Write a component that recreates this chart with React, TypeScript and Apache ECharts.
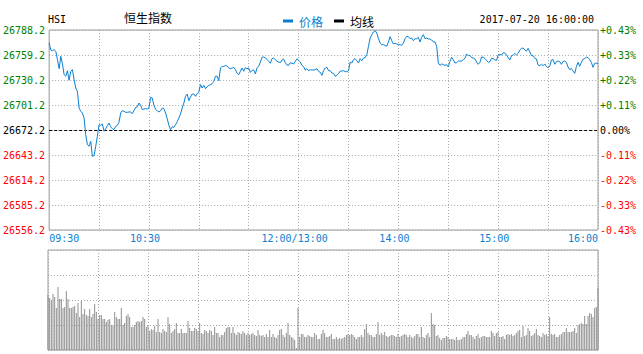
import React, { useEffect, useRef } from "react";
import * as echarts from "echarts";

// ---- data ----
const PREV_CLOSE = 26672.2;
const Y_STEP = 29;
const TIME_TICKS = [0, 60, 150, 210, 270, 330];
const TIME_LABELS = ["09:30", "10:30", "12:00/13:00", "14:00", "15:00", "16:00"];
const LEGEND_NAMES = ["价格", "均线"];
const SYMBOL = "HSI";
const INDEX_NAME = "恒生指数";
const DATE_TEXT = "2017-07-20 16:00:00";

// one price per minute, 09:30 .. 12:00 (index 0..150 incl. 13:00 at 150) .. 16:00 (330)
const PRICES_AM = [
  26773.1, 26765.0, 26764.2, 26765.4, 26763.5, 26753.8, 26743.3, 26757.7, 26748.8, 26736.4,
  26734.5, 26741.0, 26730.0, 26740.3, 26742.2, 26730.6, 26720.9, 26717.0, 26697.7, 26693.9,
  26691.9, 26686.1, 26666.8, 26655.2, 26653.3, 26659.1, 26641.7, 26642.4, 26653.3, 26664.9,
  26678.4, 26677.6, 26679.2, 26670.7, 26673.7, 26677.2, 26680.3, 26676.0, 26673.7, 26672.6,
  26676.4, 26677.6, 26681.1, 26691.9, 26694.6, 26693.9, 26692.7, 26692.7, 26693.1, 26693.1,
  26691.1, 26694.6, 26698.5, 26698.9, 26703.5, 26700.8, 26695.8, 26696.6, 26696.9, 26696.6,
  26697.7, 26710.1, 26709.3, 26700.8, 26696.2, 26694.6, 26693.1, 26694.6, 26697.7, 26696.9,
  26691.9, 26685.3, 26677.6, 26672.6, 26676.0, 26675.3, 26678.4, 26681.8, 26686.1, 26690.8,
  26697.7, 26703.5, 26711.3, 26713.9, 26706.2, 26710.5, 26713.9, 26713.9, 26711.3, 26714.3,
  26716.3, 26724.8, 26720.9, 26724.0, 26720.1, 26722.4, 26724.0, 26724.8, 26725.9, 26728.7,
  26734.5, 26734.5, 26729.4, 26744.1, 26746.1, 26745.7, 26747.2, 26746.4, 26744.1, 26743.3,
  26744.1, 26744.9, 26742.2, 26737.9, 26736.4, 26740.3, 26744.1, 26740.3, 26744.5, 26743.3,
  26744.1, 26739.1, 26741.4, 26741.8, 26737.2, 26744.5, 26746.1, 26751.1, 26756.5, 26756.9,
  26755.7, 26754.2, 26751.9, 26749.6, 26754.9, 26755.7, 26753.8, 26751.9, 26751.1, 26750.3,
  26753.4, 26754.6, 26750.3, 26747.6, 26747.2, 26750.3, 26749.6, 26748.8, 26751.9, 26754.9,
];
const PRICES_PM = [
  26753.0, 26751.1, 26747.2, 26745.7, 26741.8, 26743.3, 26741.0, 26742.2, 26741.8, 26741.8,
  26742.2, 26743.3, 26740.3, 26739.1, 26735.6, 26741.0, 26744.1, 26744.9, 26741.0, 26741.0,
  26738.3, 26737.9, 26734.5, 26735.6, 26737.5, 26740.6, 26740.6, 26741.0, 26739.9, 26739.9,
  26741.0, 26751.1, 26749.9, 26753.8, 26754.9, 26752.6, 26749.9, 26754.9, 26752.6, 26755.7,
  26756.1, 26759.6, 26769.3, 26778.9, 26782.8, 26785.9, 26787.4, 26784.7, 26778.1, 26773.1,
  26771.2, 26771.2, 26770.4, 26769.3, 26774.3, 26780.5, 26775.8, 26772.0, 26772.8, 26772.0,
  26771.2, 26771.2, 26770.4, 26773.1, 26778.1, 26780.9, 26780.5, 26778.1, 26778.9, 26775.8,
  26778.1, 26778.1, 26779.7, 26774.3, 26779.7, 26782.8, 26778.1, 26778.9, 26777.8, 26777.8,
  26776.6, 26774.3, 26774.3, 26769.3, 26749.9, 26747.2, 26748.8, 26748.0, 26747.2, 26748.0,
  26745.3, 26751.9, 26756.5, 26753.8, 26749.9, 26750.3, 26752.2, 26752.2, 26752.2, 26753.8,
  26755.3, 26760.4, 26758.4, 26758.8, 26756.1, 26755.7, 26754.6, 26751.1, 26748.4, 26750.7,
  26756.9, 26756.5, 26755.3, 26753.0, 26750.7, 26751.5, 26755.3, 26754.9, 26753.4, 26753.0,
  26759.2, 26759.9, 26759.2, 26761.9, 26761.5, 26759.2, 26756.1, 26753.4, 26758.4, 26759.2,
  26761.1, 26759.2, 26761.1, 26765.0, 26766.9, 26767.3, 26765.0, 26763.8, 26766.9, 26763.0,
  26758.4, 26758.4, 26755.3, 26754.6, 26747.6, 26746.8, 26748.4, 26746.8, 26748.8, 26745.7,
  26744.5, 26746.1, 26753.4, 26753.8, 26748.4, 26751.5, 26752.2, 26751.5, 26748.4, 26751.5,
  26752.2, 26750.7, 26745.3, 26742.2, 26743.7, 26740.6, 26737.9, 26745.7, 26750.7, 26746.1,
  26750.7, 26754.2, 26755.3, 26756.5, 26756.1, 26753.8, 26750.7, 26744.9, 26749.5, 26749.9,
  26748.8,
];

// volume per minute (relative units, axis 0..100)
const VOLUME_AM = [
  55, 52, 50, 56, 53, 42, 63, 51, 51, 42, 43, 59, 51, 42, 42,
  43, 44, 37, 47, 33, 49, 36, 41, 35, 34, 41, 33, 36, 46, 38,
  31, 35, 35, 31, 31, 28, 30, 31, 25, 25, 38, 33, 31, 31, 42,
  25, 27, 34, 36, 33, 23, 23, 25, 28, 29, 28, 29, 33, 31, 23,
  24, 19, 21, 20, 24, 18, 31, 18, 17, 21, 19, 18, 33, 26, 17,
  19, 21, 27, 17, 17, 21, 17, 17, 17, 29, 22, 19, 19, 22, 21,
  19, 27, 17, 16, 20, 19, 17, 20, 19, 15, 23, 17, 17, 13, 15,
  15, 18, 22, 23, 23, 17, 23, 17, 15, 18, 17, 16, 19, 17, 15,
  17, 15, 16, 17, 15, 14, 20, 15, 14, 15, 13, 16, 13, 20, 13,
  16, 13, 12, 15, 20, 21, 15, 13, 17, 27, 15,
  13, 12, 10, 2,
];
const VOLUME_PM = [
  42, 13, 16, 16, 13, 13, 15, 14, 13, 13,
  17, 15, 11, 11, 16, 20, 17, 13, 13,
  14, 16, 11, 11, 13, 11, 12, 11, 12,
  13, 15, 16, 15, 16, 15, 13, 11, 13,
  13, 15, 13, 21, 26, 17, 15, 15, 13,
  13, 16, 28, 15, 17, 15, 18, 14, 13,
  14, 15, 15, 14, 13, 16, 13, 14, 15,
  16, 15, 13, 15, 13, 12, 14, 16, 16,
  13, 23, 13, 12, 15, 17, 13, 37, 26,
  25, 14, 15, 12, 10, 12, 12, 14, 13,
  11, 11, 11, 10, 13, 10, 10, 11, 13,
  13, 16, 19, 15, 15, 13, 11, 14, 16,
  12, 13, 14, 14, 13, 13, 13, 19, 17,
  14, 17, 18, 13, 13, 14, 11, 15, 16, 15,
  16, 14, 15, 17, 19, 20, 13, 24, 14, 15,
  22, 19, 14, 15, 17, 21, 15, 14, 13, 17,
  15, 16, 14, 33, 16, 15, 16, 13, 13, 15,
  16, 18, 18, 22, 18, 18, 18, 19, 22, 17,
  25, 26, 27, 26, 34, 26, 34, 37, 36, 33,
  42, 43, 62,
];

// ---- styles ----
const BLUE = "#0a7fd0";
const GREEN = "#008000";
const RED = "#ff0000";
const GRID_GRAY = "#a8a8a8";
const BORDER_GRAY = "#9a9a9a";
const MONO = "'DejaVu Sans Mono', monospace";
const CJK = "'Noto Sans CJK SC', sans-serif";

function buildOption() {
  const prices = PRICES_AM.concat(PRICES_PM);
  const volumes = VOLUME_AM.concat(VOLUME_PM);
  const priceData = prices.map((p, i) => [i, +(p - PREV_CLOSE).toFixed(1)]);
  const volData = volumes.map((v, i) => [i, v]);
  const yMin = -4 * Y_STEP;
  const yMax = 4 * Y_STEP;
  const dotted = { color: GRID_GRAY, type: [1, 2] as any, width: 1 };
  const signColor = (val: any) => {
    const n = Number(val);
    return n > 0.001 ? GREEN : n < -0.001 ? RED : "#000";
  };

  return {
    animation: false,
    backgroundColor: "#fff",
    legend: {
      left: 278,
      top: 10,
      icon: "rect",
      itemWidth: 10,
      itemHeight: 3,
      itemGap: 11,
      selectedMode: false,
      data: [
        { name: LEGEND_NAMES[0], textStyle: { color: BLUE } },
        { name: LEGEND_NAMES[1], textStyle: { color: "#000" } },
      ],
      textStyle: { fontFamily: CJK, fontSize: 12, padding: [0, 0, 0, 1] },
    },
    graphic: [
      {
        type: "text",
        left: 48,
        top: 14,
        style: { text: SYMBOL, font: `10px ${MONO}`, fill: "#000" },
      },
      {
        type: "text",
        left: 124,
        top: 11,
        style: { text: INDEX_NAME, font: `12px ${CJK}`, fill: "#000" },
      },
      {
        type: "text",
        right: 49,
        top: 14,
        style: { text: DATE_TEXT, font: `10px ${MONO}`, fill: "#000" },
      },
    ],
    grid: [
      { left: 48, top: 30, width: 550, height: 200, show: true, borderColor: BORDER_GRAY, borderWidth: 1, backgroundColor: "transparent" },
      { left: 48, top: 250, width: 550, height: 100, show: true, borderColor: BORDER_GRAY, borderWidth: 1, backgroundColor: "transparent" },
    ],
    xAxis: [
      {
        type: "value",
        gridIndex: 0,
        min: 0,
        max: 330,
        interval: 30,
        axisLine: { show: false },
        axisTick: { show: false },
        splitLine: { show: true, lineStyle: dotted },
        axisLabel: {
          show: true,
          margin: 3,
          alignMinLabel: "left",
          alignMaxLabel: "right",
          showMinLabel: true,
          showMaxLabel: true,
          fontFamily: MONO,
          fontSize: 10,
          color: BLUE,
          formatter: (v: number) => {
            const i = TIME_TICKS.indexOf(Math.round(v));
            if (i < 0) return "";
            const t = TIME_LABELS[i];
            return i === 0 || i === TIME_TICKS.length - 1 ? `{e|${t}}` : `{m|${t}}`;
          },
          rich: {
            e: { fontFamily: MONO, fontSize: 10, color: BLUE },
            m: { fontFamily: MONO, fontSize: 10, color: BLUE, padding: [0, 8, 0, 0] },
          },
        },
      },
      {
        type: "value",
        gridIndex: 1,
        min: 0,
        max: 330,
        interval: 30,
        axisLine: { show: false },
        axisTick: { show: false },
        axisLabel: { show: false },
        splitLine: { show: true, lineStyle: dotted },
      },
    ],
    yAxis: [
      {
        type: "value",
        gridIndex: 0,
        position: "left",
        min: yMin,
        max: yMax,
        interval: Y_STEP,
        axisLine: { show: false },
        axisTick: { show: false },
        splitLine: { show: true, lineStyle: dotted },
        axisLabel: {
          margin: 4,
          fontFamily: MONO,
          fontSize: 10,
          verticalAlign: "middle",
          padding: [0, 0, 6, 0],
          color: signColor,
          formatter: (v: number) => (PREV_CLOSE + v).toFixed(1),
        },
      },
      {
        type: "value",
        gridIndex: 0,
        position: "right",
        min: yMin,
        max: yMax,
        interval: Y_STEP,
        axisLine: { show: false },
        axisTick: { show: false },
        splitLine: { show: false },
        axisLabel: {
          margin: 2,
          fontFamily: MONO,
          fontSize: 10,
          verticalAlign: "middle",
          padding: [0, 0, 6, 0],
          color: signColor,
          formatter: (v: number) => {
            const p = Math.abs((v / PREV_CLOSE) * 100).toFixed(2);
            if (v > 0.001) return `+${p}%`;
            if (v < -0.001) return `-${p}%`;
            return "0.00%";
          },
        },
      },
      {
        type: "value",
        gridIndex: 1,
        min: 0,
        max: 100,
        interval: 25,
        axisLine: { show: false },
        axisTick: { show: false },
        axisLabel: { show: false },
        splitLine: { show: true, lineStyle: dotted },
      },
    ],
    series: [
      {
        name: LEGEND_NAMES[0],
        type: "line",
        xAxisIndex: 0,
        yAxisIndex: 0,
        data: priceData,
        showSymbol: false,
        symbol: "none",
        itemStyle: { color: BLUE },
        lineStyle: { color: BLUE, width: 1 },
        z: 5,
        markLine: {
          silent: true,
          symbol: ["none", "none"],
          label: { show: false },
          lineStyle: { color: "#000", type: [3, 2], width: 1 },
          data: [{ yAxis: 0 }],
          z: 4,
        },
      },
      {
        name: LEGEND_NAMES[1],
        type: "line",
        xAxisIndex: 0,
        yAxisIndex: 0,
        data: [],
        showSymbol: false,
        itemStyle: { color: "#000" },
        lineStyle: { color: "#000", width: 1 },
      },
      {
        name: "成交量",
        type: "bar",
        xAxisIndex: 1,
        yAxisIndex: 2,
        data: volData,
        barWidth: 1,
        itemStyle: { color: "#8f8f8f" },
      },
    ],
  };
}

export default function App() {
  const ref = useRef<HTMLDivElement>(null);
  useEffect(() => {
    if (!ref.current) return;
    const chart = echarts.init(ref.current, null, { renderer: "svg" });
    chart.setOption(buildOption() as any);
    return () => chart.dispose();
  }, []);
  return (
    <div
      ref={ref}
      style={{ position: "fixed", left: 0, top: 0, width: 643, height: 354, background: "#fff" }}
    />
  );
}
